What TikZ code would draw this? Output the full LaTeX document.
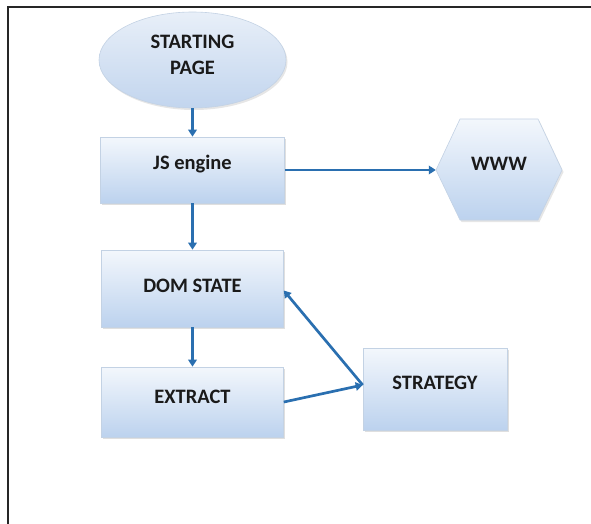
\documentclass[tikz,border=0pt]{standalone}
\usepackage{fontspec}
\setmainfont{Carlito}
\usetikzlibrary{shapes.geometric,arrows.meta,shadows}

\definecolor{boxtop}{HTML}{F3F7FC}
\definecolor{boxbot}{HTML}{BCD2EE}
\definecolor{boxedge}{HTML}{C3D2E4}
\definecolor{ovaltop}{HTML}{E8EFF8}
\definecolor{ovalbot}{HTML}{C2D5EE}
\definecolor{flow}{HTML}{2A6FB0}
\definecolor{ink}{HTML}{1A1A1A}

\tikzset{
  flowbox/.style={rectangle, draw=boxedge, line width=0.6pt,
    top color=boxtop, bottom color=boxbot, inner sep=0pt,
    drop shadow={shadow xshift=1.5pt, shadow yshift=-2pt, opacity=0.25, fill=gray}},
  oval/.style={ellipse, draw=boxedge, line width=0.6pt,
    top color=ovaltop, bottom color=ovalbot, inner sep=0pt,
    drop shadow={shadow xshift=1.5pt, shadow yshift=-2pt, opacity=0.2, fill=gray}},
  lbl/.style={font=\bfseries\fontsize{20.5}{26}\selectfont, text=ink, inner sep=0pt, align=center},
  hole/.style={inner sep=0pt, draw=none},
  link/.style={draw=flow, line width=2.7pt, -{Triangle[length=7pt,width=8.5pt]}}
}

\begin{document}
\begin{tikzpicture}[x=1pt,y=-1pt]
\useasboundingbox (0,0) rectangle (591,524);

% frame: top and left rules
\draw[line width=2pt, black!85] (8,524) -- (8,7) -- (591,7);

% shapes
\node[oval, minimum width=187pt, minimum height=96pt] (start) at (192.5,60) {};
\node[flowbox, minimum width=184pt, minimum height=66pt] (js) at (192.5,170) {};
\node[flowbox, minimum width=182pt, minimum height=77pt] (dom) at (192.5,288.5) {};
\node[flowbox, minimum width=182pt, minimum height=70pt] (extract) at (192.5,402) {};
\node[flowbox, minimum width=144pt, minimum height=82pt] (strategy) at (435,389) {};

% hexagon for the web
\shade[top color=boxtop, bottom color=boxbot, draw=boxedge, line width=0.6pt,
  drop shadow={shadow xshift=1.5pt, shadow yshift=-2pt, opacity=0.2, fill=gray}]
  (436,170) -- (460,119) -- (538,119) -- (562,170) -- (538,220) -- (460,220) -- cycle;
\node[hole, minimum width=126pt, minimum height=101pt] (www) at (499,170) {};

% labels
\node[lbl] (startt) at ([yshift=5pt]start.center) {STARTING\\PAGE};
\node[lbl] (jst) at ([yshift=6pt]js.center) {JS engine};
\node[lbl] (domt) at ([yshift=3pt]dom.center) {DOM STATE};
\node[lbl] (extractt) at ([yshift=5pt]extract.center) {EXTRACT};
\node[lbl] (strategyt) at ([yshift=6pt]strategy.center) {STRATEGY};
\node[lbl] (wwwt) at ([yshift=6pt]www.center) {WWW};

% connectors
\coordinate (meet) at ([yshift=4pt]strategy.west);
\draw[link] (start.south) -- (js.north);
\draw[link] (js.east) -- (www.west);
\draw[link] (js.south) -- (dom.north);
\draw[link] (dom.south) -- (extract.north);
\draw[link] (extract.east) -- (meet);
\draw[link] (meet) -- ([yshift=-2pt]dom.east);
\end{tikzpicture}
\end{document}
